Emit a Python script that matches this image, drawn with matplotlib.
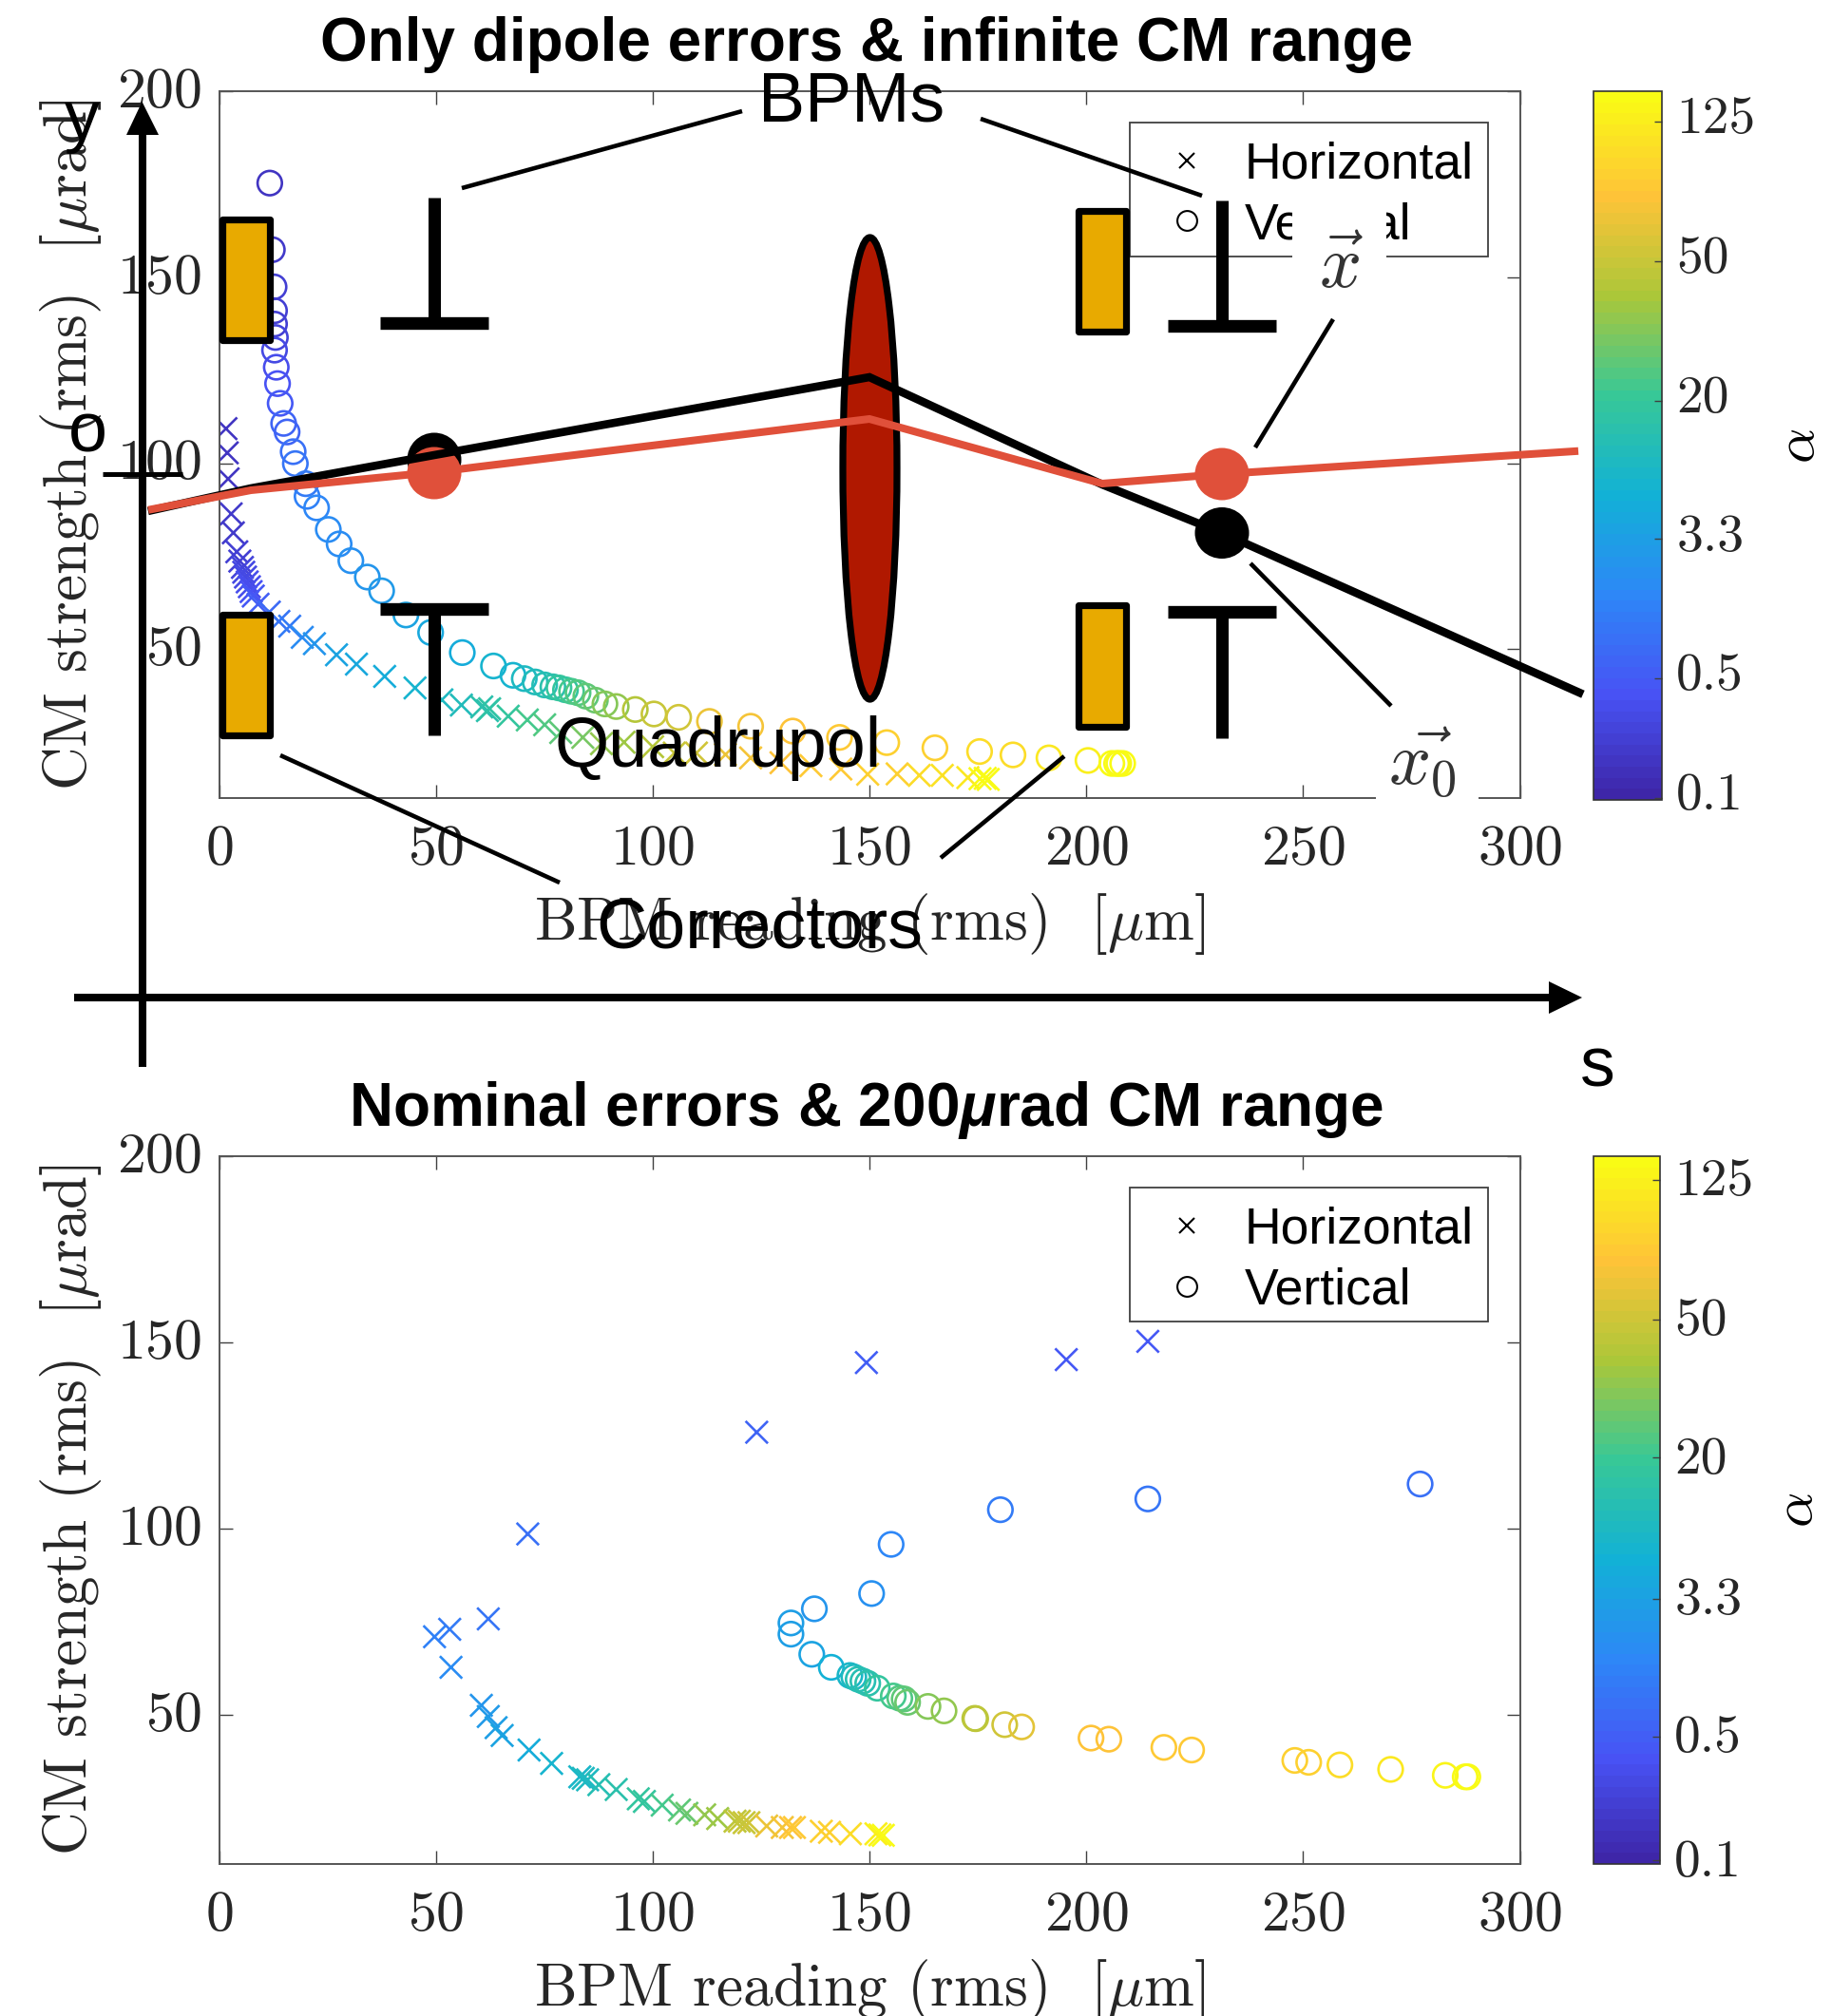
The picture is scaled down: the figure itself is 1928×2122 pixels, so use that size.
#!/usr/bin/env python3

import matplotlib
matplotlib.use('Agg')
from matplotlib import pyplot as plt
from matplotlib.colors import LinearSegmentedColormap
from matplotlib.cm import ScalarMappable
from matplotlib.lines import Line2D
from matplotlib.patches import Rectangle, Ellipse, Polygon
from matplotlib.transforms import ScaledTranslation

# Data: rms BPM reading [um], rms CM strength [urad], position on the alpha colour scale
top_h_x = [1.6, 1.9, 2.1, 2.8, 3.3, 4.1, 4.8, 5.4, 5.7, 6.1, 6.5, 7.0, 7.4, 7.9, 9.0, 11.6, 13.8, 16.3,
           19.2, 22.0, 27.1, 31.7, 38.2, 45.2, 51.4, 55.9, 60.6, 61.9, 62.4, 66.7, 71.1, 75.1, 78.8, 83.9,
           88.2, 93.4, 100.0, 105.0, 110.1, 116.8, 122.6, 129.6, 136.5, 143.4, 149.6, 156.4, 161.5, 166.8,
           172.7, 175.5, 176.7, 177.4]
top_h_y = [109.3, 102.8, 95.8, 86.4, 81.3, 76.2, 73.7, 72.0, 70.7, 69.4, 68.1, 66.8, 65.5, 64.3, 62.1, 60.0,
           57.5, 56.2, 53.2, 51.5, 48.5, 46.0, 42.7, 39.6, 36.4, 35.0, 34.5, 33.5, 34.0, 32.0, 31.0, 29.7,
           27.6, 26.3, 24.6, 25.0, 23.8, 22.1, 22.1, 21.7, 20.8, 19.5, 18.7, 17.8, 16.4, 16.5, 16.1, 16.1,
           15.5, 15.2, 15.3, 15.0]
top_h_c = [.05, .06, .06, .07, .07, .08, .09, .10, .11, .12, .13, .14, .15, .16, .18, .21, .24, .26,
           .30, .33, .38, .40, .42, .44, .47, .49, .52, .53, .54, .56, .58, .60, .62, .65,
           .68, .70, .73, .76, .78, .82, .84, .85, .86, .87, .88, .89, .91, .93,
           .95, 1.0, 1.0, 1.0]

top_v_x = [11.7, 12.3, 12.7, 12.8, 12.8, 13.0, 12.8, 13.2, 13.5, 14.1, 14.9, 15.7, 17.1, 17.6, 20.0, 20.3,
           22.5, 25.2, 27.7, 30.4, 34.2, 37.5, 43.1, 48.8, 56.1, 63.3, 67.8, 70.4, 72.9, 75.1, 77.0, 78.4,
           79.9, 81.3, 82.8, 84.6, 86.8, 89.0, 91.6, 96.0, 100.3, 106.0, 113.1, 122.6, 132.3, 143.1, 154.0,
           165.1, 175.4, 183.1, 191.4, 200.4, 205.9, 207.0, 207.5, 208.4]
top_v_y = [175.3, 157.4, 147.4, 141.0, 137.4, 133.8, 130.4, 125.8, 121.4, 116.1, 110.7, 108.4, 103.1, 99.9,
           94.5, 91.1, 88.0, 82.2, 78.3, 73.8, 69.4, 65.7, 59.2, 54.5, 49.1, 45.5, 43.0, 42.1, 41.2, 40.4,
           39.9, 39.6, 39.1, 38.7, 38.3, 37.4, 36.3, 35.3, 34.6, 33.8, 32.6, 31.7, 30.6, 29.3, 28.0, 26.3,
           24.9, 23.5, 22.5, 21.6, 20.8, 20.1, 19.3, 19.3, 19.3, 19.3]
top_v_c = [.06, .07, .08, .09, .09, .10, .11, .13, .15, .17, .19, .20, .23, .24, .26, .27,
           .29, .30, .31, .32, .34, .35, .38, .40, .42, .44, .45, .47, .49, .51, .53, .55,
           .56, .58, .60, .62, .64, .66, .68, .72, .75, .77, .82, .84, .85, .87, .88,
           .89, .91, .92, .94, .96, .99, 1.0, 1.0, 1.0]

bot_h_x = [214.2, 195.4, 149.3, 124.0, 71.2, 62.1, 53.2, 49.7, 53.5, 60.5, 62.1, 63.9, 65.3, 71.5, 76.7, 83.2,
           84.0, 85.0, 87.6, 91.6, 96.7, 98.1, 102.2, 106.2, 107.9, 112.0, 115.0, 119.0, 120.0, 121.1, 122.2,
           126.3, 129.9, 131.8, 132.7, 138.9, 140.8, 145.6, 151.5, 152.4, 153.2]
bot_h_y = [150.3, 145.4, 144.6, 125.9, 98.6, 75.8, 73.0, 71.0, 62.8, 52.6, 49.6, 46.6, 44.5, 40.6, 37.0, 33.4,
           33.0, 32.6, 31.3, 30.0, 27.5, 26.8, 25.8, 24.5, 23.6, 23.2, 22.2, 21.5, 21.5, 21.1, 21.1,
           20.2, 19.8, 19.8, 19.8, 18.8, 18.5, 18.1, 18.1, 17.8, 17.7]
bot_h_c = [.16, .17, .18, .20, .22, .24, .26, .27, .30, .33, .35, .37, .38, .42, .44, .46,
           .47, .48, .50, .52, .55, .56, .58, .61, .63, .68, .70, .74, .75, .76, .77,
           .82, .84, .85, .86, .88, .89, .91, .96, .98, 1.0]

bot_v_x = [277.0, 214.2, 180.2, 155.0, 150.5, 137.3, 131.9, 131.9, 136.7, 141.2, 145.5, 146.4, 147.4, 148.5,
           149.6, 151.8, 155.5, 157.0, 158.0, 158.8, 163.5, 167.2, 174.3, 174.5, 181.2, 185.1, 201.1, 205.2,
           217.9, 224.3, 248.1, 251.3, 258.5, 270.2, 282.8, 287.4, 288.0]
bot_v_y = [112.0, 108.0, 105.1, 95.8, 82.6, 78.5, 74.7, 71.7, 66.3, 62.8, 60.6, 60.2, 59.6, 59.1,
           58.5, 57.2, 55.1, 54.5, 54.3, 53.4, 52.3, 51.1, 49.1, 49.0, 47.4, 46.8, 43.8, 43.5,
           41.3, 40.6, 37.8, 37.3, 36.6, 35.4, 33.8, 33.4, 33.4]
bot_v_c = [.22, .24, .26, .29, .32, .34, .36, .37, .39, .43, .46, .48, .50, .51,
           .52, .55, .58, .60, .61, .63, .66, .68, .73, .74, .78, .80, .85, .85,
           .86, .86, .89, .89, .91, .94, .97, 1.0, 1.0]

x_ticks = [0, 50, 100, 150, 200, 250, 300]
y_ticks = [50, 100, 150, 200]
alpha_labels = ['0.1', '0.5', '3.3', '20', '50', '125']
top_alpha_pos = [.003, .172, .368, .563, .760, .957]
bot_alpha_pos = [.005, .180, .375, .574, .769, .967]

parula_colors = [(0.2422, 0.1504, 0.6603), (0.2810, 0.3228, 0.9579), (0.1786, 0.5289, 0.9682),
                 (0.0689, 0.6948, 0.8394), (0.2161, 0.7843, 0.5923), (0.6720, 0.7793, 0.2227),
                 (0.9970, 0.7659, 0.2199), (0.9769, 0.9839, 0.0805)]
parula = LinearSegmentedColormap.from_list('parula', parula_colors, N=64)

W = 1928
H = 2122
GREY = '#404040'


# Functions
def px_axes(left, top, right, bottom):
    return fig.add_axes([left / W, 1 - bottom / H, (right - left) / W, (bottom - top) / H])


def nudge_up(labels, px):
    shift = ScaledTranslation(0, px / 100, fig.dpi_scale_trans)
    for lab in labels:
        lab.set_transform(lab.get_transform() + shift)


def scatter_panel(ax, hx, hy, hc, vx, vy, vc, title, **title_kw):
    ax.scatter(hx, hy, s=285, marker='x', c=parula(hc), linewidths=1.9)
    ax.scatter(vx, vy, s=340, marker='o', facecolors='none', edgecolors=parula(vc), linewidths=1.9)
    ax.set_xlim(0, 300)
    ax.set_ylim(10, 200)
    ax.set_xticks(x_ticks)
    ax.set_yticks(y_ticks)
    ax.tick_params(direction='in', top=True, right=True, length=10, width=1.0, color=GREY,
                   labelsize=43, labelcolor='#262626')
    ax.tick_params(axis='x', pad=20)
    ax.tick_params(axis='y', pad=13)
    for lab in ax.get_xticklabels() + ax.get_yticklabels():
        lab.set_fontfamily('cmr10')
    nudge_up(ax.get_yticklabels(), 4)
    for sp in ax.spines.values():
        sp.set_linewidth(1.4)
        sp.set_color('#555555')
    ax.set_xlabel(r'BPM reading (rms)  [$\mu$m]', fontsize=45.6, family='cmr10', color='#262626', labelpad=12)
    ax.set_ylabel(r'CM strength (rms)  [$\mu$rad]', fontsize=45.6, family='cmr10', color='#262626', labelpad=10)
    ax.set_title(title, fontsize=46, fontweight='bold', pad=23, x=0.4975, **title_kw)
    # legend frame drawn on its own so the rows can sit a little low in it
    ax.add_patch(Rectangle((0.700, 0.766), 0.2755, 0.1895, transform=ax.transAxes, fc='white',
                           ec='#404040', lw=1.3, zorder=4.9))
    handles = [Line2D([], [], ls='', marker='x', color='k', ms=11.5, mew=1.5, label='Horizontal'),
               Line2D([], [], ls='', marker='o', mfc='none', color='k', ms=15, mew=1.5, label='Vertical')]
    ax.legend(handles=handles, loc='center', bbox_to_anchor=(0.837, 0.853), fontsize=38.5,
              frameon=False, borderpad=0.25, labelspacing=0.255,
              handlelength=1.78, handletextpad=0.25, borderaxespad=0)


def add_colorbar(cax, positions, label_shift):
    cb = fig.colorbar(ScalarMappable(cmap=parula), cax=cax)
    cb.set_ticks(positions)
    cb.set_ticklabels(alpha_labels)
    cb.ax.tick_params(direction='in', length=6, width=1.0, color=GREY, labelsize=40,
                      labelcolor='#262626', pad=11)
    for lab in cb.ax.get_yticklabels():
        lab.set_fontfamily('cmr10')
    nudge_up(cb.ax.get_yticklabels(), label_shift)
    cb.outline.set_linewidth(1.2)
    cb.outline.set_edgecolor('#333333')
    cb.set_label(r'$\alpha$', fontsize=42, rotation=90, labelpad=14)


# Main
plt.rcParams['font.family'] = ['Liberation Sans', 'DejaVu Sans']
plt.rcParams['mathtext.fontset'] = 'cm'
plt.rcParams['mathtext.bfit'] = 'Liberation Sans:italic:bold'
plt.rcParams['axes.formatter.use_mathtext'] = True
plt.rcParams['axes.unicode_minus'] = False

fig = plt.figure(figsize=(W / 100, H / 100), dpi=100, facecolor='white')

ax_top = px_axes(230.5, 96, 1599.5, 840)
ax_bot = px_axes(230.5, 1217, 1599.5, 1962)
scatter_panel(ax_top, top_h_x, top_h_y, top_h_c, top_v_x, top_v_y, top_v_c,
              'Only dipole errors & infinite CM range')
scatter_panel(ax_bot, bot_h_x, bot_h_y, bot_h_c, bot_v_x, bot_v_y, bot_v_c,
              r'Nominal errors & 200$\mathbfit{\mu}$rad CM range', math_fontfamily='custom')
add_colorbar(px_axes(1677, 96, 1749, 842), top_alpha_pos, 7)
add_colorbar(px_axes(1677, 1217, 1747, 1962), bot_alpha_pos, 3)

# beamline sketch pasted over the top panel, in pixel coordinates
ov = fig.add_axes([0, 0, 1, 1], zorder=10)
ov.set_xlim(0, W)
ov.set_ylim(H, 0)
ov.axis('off')

white_boxes = [(1360, 195, 99, 125), (1448, 760, 108, 100)]
for bx, by, bw, bh in white_boxes:
    ov.add_patch(Rectangle((bx, by), bw, bh, fc='white', ec='none'))

# axes arrows
ov.plot([149.5, 149.5], [1123, 140], color='k', lw=5.8, solid_capstyle='butt')
ov.add_patch(Polygon([(149.5, 107), (133, 142), (167, 142)], fc='k', ec='none'))
ov.plot([78, 1632], [1050, 1050], color='k', lw=5.8, solid_capstyle='butt')
ov.add_patch(Polygon([(1665, 1050), (1630, 1033), (1630, 1067)], fc='k', ec='none'))
ov.plot([108, 192], [499, 499], color='k', lw=3.6, solid_capstyle='butt')

# correctors
corrector_boxes = [(234, 231, 50, 127), (234, 647, 50, 127), (1135, 222, 50, 127), (1135, 637, 50, 128)]
for bx, by, bw, bh in corrector_boxes:
    ov.add_patch(Rectangle((bx, by), bw, bh, fc='#E8AA00', ec='k', lw=5.2, joinstyle='round'))

# BPMs
bpm_x = [457, 1286]
for bx, top_end, base_y, bot_y in zip(bpm_x, [208, 211], [340, 342.5], [641, 643.5]):
    ov.plot([bx, bx], [top_end, base_y], color='k', lw=9.4, solid_capstyle='butt')
    ov.plot([bx - 57, bx + 57], [base_y, base_y], color='k', lw=9.6, solid_capstyle='butt')
    ov.plot([bx - 57, bx + 57], [bot_y, bot_y], color='k', lw=9.6, solid_capstyle='butt')
    ov.plot([bx, bx], [bot_y, bot_y + 133], color='k', lw=9.4, solid_capstyle='butt')

# quadrupole
ov.add_patch(Ellipse((915.5, 493), 57, 486, fc='#B01800', ec='k', lw=5.2))

# rays
black_ray_x = [160, 264, 457, 915, 1160, 1286, 1662]
black_ray_y = [537, 514, 479, 397, 510, 561, 729]
red_ray_x = [160, 264, 457, 915, 1160, 1286, 1657]
red_ray_y = [536, 516, 497, 441, 509, 499, 475]
ov.plot(black_ray_x, black_ray_y, color='k', lw=6.2, solid_joinstyle='miter')
ov.add_patch(Ellipse((457, 484), 57, 57, fc='k', ec='none'))
ov.add_patch(Ellipse((1286, 561), 57, 54, fc='k', ec='none'))
ov.plot(red_ray_x, red_ray_y, color='#E0503A', lw=5.8, solid_joinstyle='miter')
ov.add_patch(Ellipse((457, 498), 57, 55, fc='#E0503A', ec='none'))
ov.add_patch(Ellipse((1286, 499), 57, 55, fc='#E0503A', ec='none'))

# leader lines
leaders = [((486, 198), (781, 117)), ((1032, 125), (1265, 206)), ((1403, 336), (1321, 471)),
           ((1316, 593), (1464, 743)), ((295, 795), (589, 929)), ((1120, 796), (990, 903))]
for p0, p1 in leaders:
    ov.plot([p0[0], p1[0]], [p0[1], p1[1]], color='k', lw=3.3, solid_capstyle='butt')

sketch_labels = [('BPMs', 896, 127), ('Quadrupol', 756, 807), ('Correctors', 799, 998),
                 ('y', 86, 147), ('o', 92, 475), ('s', 1681, 1143)]
for txt, tx, ty in sketch_labels:
    ov.text(tx, ty, txt, fontsize=53, ha='center', va='baseline', color='k')

ov.text(1411, 282, r'$\vec{x}$', fontsize=56, ha='center', va='center', color='#333333')
ov.text(1497, 803, r'$\vec{x_0}$', fontsize=56, ha='center', va='center', color='#333333')

fig.savefig('out.png', dpi=100, facecolor='white')
